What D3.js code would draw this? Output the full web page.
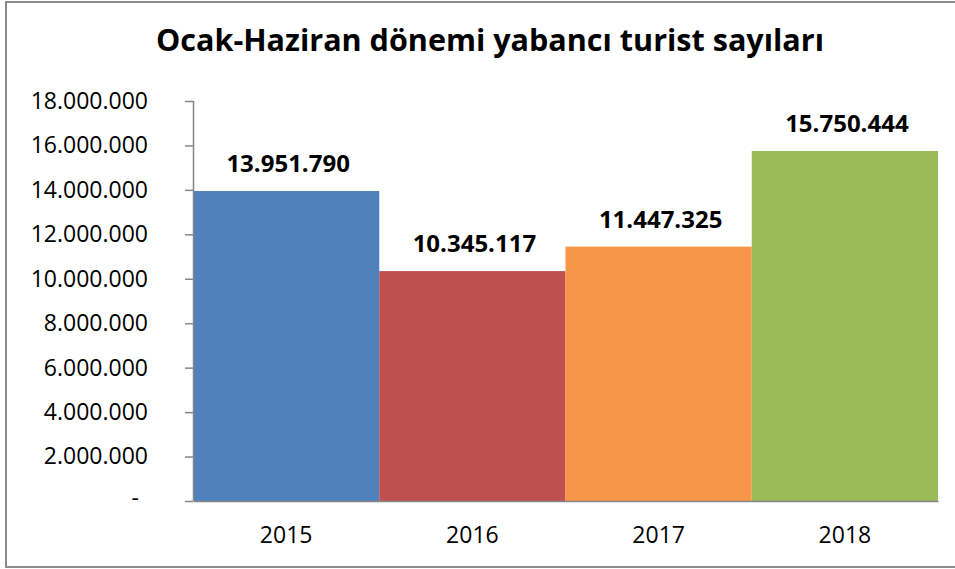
<!DOCTYPE html>
<html>
<head>
<meta charset="utf-8">
<script src="https://cdn.jsdelivr.net/npm/d3@7"></script>
<style>
  body { margin: 0; background: #fff; }
</style>
</head>
<body>
<script>
// dati
const years = ["2015", "2016", "2017", "2018"];
const visitors = [13951790, 10345117, 11447325, 15750444];
const barColors = ["#4F81BD", "#C0504D", "#F79646", "#9BBB59"];
const yTicks = [0, 2000000, 4000000, 6000000, 8000000, 10000000, 12000000, 14000000, 16000000, 18000000];

const width = 955;
const height = 569;
const marginLeft = 193;
const marginRight = 17;
const marginTop = 101;
const marginBottom = 68;
const font = "Open Sans, DejaVu Sans, sans-serif";

const svg = d3.create("svg")
  .attr("width", width)
  .attr("height", height);

// cornice esterna
svg.append("rect")
  .attr("x", 6).attr("y", 2)
  .attr("width", width + 10).attr("height", 565)
  .attr("fill", "none")
  .attr("stroke", "#8c8c8c")
  .attr("stroke-width", 2);

// titolo
svg.append("text")
  .attr("x", 490).attr("y", 51)
  .attr("text-anchor", "middle")
  .attr("font-family", font)
  .attr("font-weight", "bold")
  .attr("font-size", 30)
  .attr("textLength", 668)
  .attr("lengthAdjust", "spacingAndGlyphs")
  .attr("fill", "#000")
  .text("Ocak-Haziran dönemi yabancı turist sayıları");

const x = d3.scaleBand()
  .domain(years)
  .range([marginLeft, width - marginRight])
  .padding(0);

const y = d3.scaleLinear()
  .domain([0, 18000000])
  .range([height - marginBottom, marginTop]);

// formato con punti come separatore delle migliaia
const fmt = d3.formatLocale({ decimal: ",", thousands: ".", grouping: [3], currency: ["", ""] }).format(",d");

// barre
svg.append("g")
  .selectAll("rect")
  .data(years)
  .join("rect")
  .attr("x", d => x(d))
  .attr("y", (d, i) => y(visitors[i]))
  .attr("width", x.bandwidth())
  .attr("height", (d, i) => y(0) - y(visitors[i]))
  .attr("fill", (d, i) => barColors[i]);

// etichette dei valori
svg.append("g")
  .selectAll("text")
  .data(years)
  .join("text")
  .attr("x", d => x(d) + x.bandwidth() / 2 + 2)
  .attr("y", (d, i) => y(visitors[i]) - 19)
  .attr("text-anchor", "middle")
  .attr("font-family", font)
  .attr("font-weight", "bold")
  .attr("font-size", 24)
  .attr("fill", "#000")
  .text((d, i) => fmt(visitors[i]));

// asse y
svg.append("g")
  .attr("transform", "translate(" + marginLeft + ",0)")
  .call(d3.axisLeft(y)
    .tickValues(yTicks)
    .tickSize(8)
    .tickPadding(37)
    .tickFormat(d => d === 0 ? "-" : fmt(d)))
  .call(g => g.selectAll("line").attr("stroke", "#868686").attr("stroke-width", 1.5))
  .call(g => g.select(".domain").attr("stroke", "#868686").attr("stroke-width", 1.5).attr("d", "M0.5," + marginTop + "V" + (height - marginBottom)))
  .call(g => g.selectAll("text")
    .attr("font-family", font)
    .attr("font-size", 23)
    .attr("fill", "#000"))
  .call(g => g.selectAll(".tick").filter(d => d === 0).select("text").attr("dx", -9).attr("dy", "0.2em"));

// asse x
svg.append("g")
  .attr("transform", "translate(0," + (height - marginBottom) + ")")
  .call(d3.axisBottom(x).tickSize(0).tickPadding(26))
  .call(g => g.select(".domain").attr("stroke", "#868686").attr("stroke-width", 1.5))
  .call(g => g.selectAll("text")
    .attr("font-family", font)
    .attr("font-size", 23)
    .attr("fill", "#000"));

document.body.appendChild(svg.node());
</script>
</body>
</html>
